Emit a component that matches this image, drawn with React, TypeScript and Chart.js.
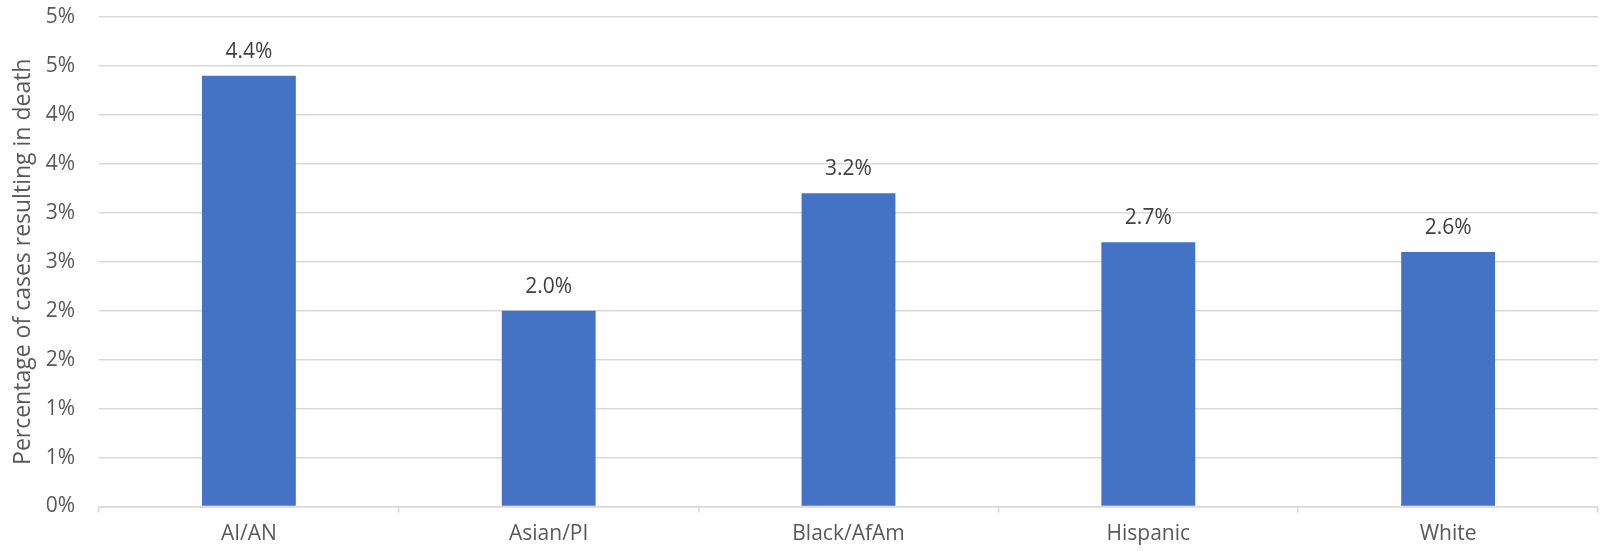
import React, { useEffect, useRef } from "react";
import { Chart, registerables } from "chart.js";

Chart.register(...registerables);

const categories = ["AI/AN", "Asian/PI", "Black/AfAm", "Hispanic", "White"];
const deathRates = [4.4, 2.0, 3.2, 2.7, 2.6];
const yAxisTitle = "Percentage of cases resulting in death";

const FONT = "'Open Sans', sans-serif";
const FS = 21;

const labelPlugin = {
  id: "barLabels",
  afterDatasetsDraw(chart: any) {
    const ctx = chart.ctx;
    const meta = chart.getDatasetMeta(0);
    ctx.save();
    ctx.font = `${FS}px ${FONT}`;
    ctx.fillStyle = "#404040";
    ctx.textAlign = "center";
    ctx.textBaseline = "middle";
    meta.data.forEach((bar: any, i: number) => {
      ctx.fillText(deathRates[i].toFixed(1) + "%", bar.x, bar.y - 24);
    });
    ctx.restore();
  },
};

export default function App() {
  const ref = useRef<HTMLCanvasElement>(null);
  useEffect(() => {
    document.body.style.margin = "0";
    const chart = new Chart(ref.current!, {
      type: "bar",
      data: {
        labels: categories,
        datasets: [
          {
            data: deathRates,
            backgroundColor: "#4472C4",
            borderWidth: 0,
            categoryPercentage: 1,
            barPercentage: 0.313,
          },
        ],
      },
      options: {
        animation: false,
        responsive: false,
        devicePixelRatio: 1,
        layout: { padding: { top: 17, right: 2, bottom: 0, left: 0 } },
        plugins: { legend: { display: false }, tooltip: { enabled: false } },
        scales: {
          x: {
            afterFit: (s: any) => {
              s.height = 44.5;
            },
            grid: {
              display: true,
              drawOnChartArea: false,
              drawTicks: true,
              tickLength: 6,
              color: "#D9D9D9",
              lineWidth: 1.5,
            },
            border: { display: true, color: "#D9D9D9", width: 1.5 },
            ticks: {
              color: "#595959",
              font: { family: FONT, size: FS },
              padding: 9,
            },
          },
          y: {
            min: 0,
            max: 5,
            afterFit: (s: any) => {
              s.width = 99;
              s.paddingTop = 0;
              s.paddingBottom = 0;
            },
            ticks: {
              stepSize: 0.5,
              color: "#595959",
              font: { family: FONT, size: FS },
              padding: 24,
              callback: (v: any) => Math.round(Number(v)) + "%",
            },
            grid: { color: "#D9D9D9", lineWidth: 1.5, drawTicks: false },
            border: { display: false },
            title: {
              display: true,
              text: yAxisTitle,
              color: "#595959",
              font: { family: FONT, size: 23 },
              padding: { top: 10, bottom: 0 },
            },
          },
        },
      },
      plugins: [labelPlugin],
    });
    return () => chart.destroy();
  }, []);
  return (
    <div style={{ position: "absolute", left: 0, top: 0, width: 1600, height: 551 }}>
      <canvas ref={ref} width={1600} height={551} />
    </div>
  );
}
